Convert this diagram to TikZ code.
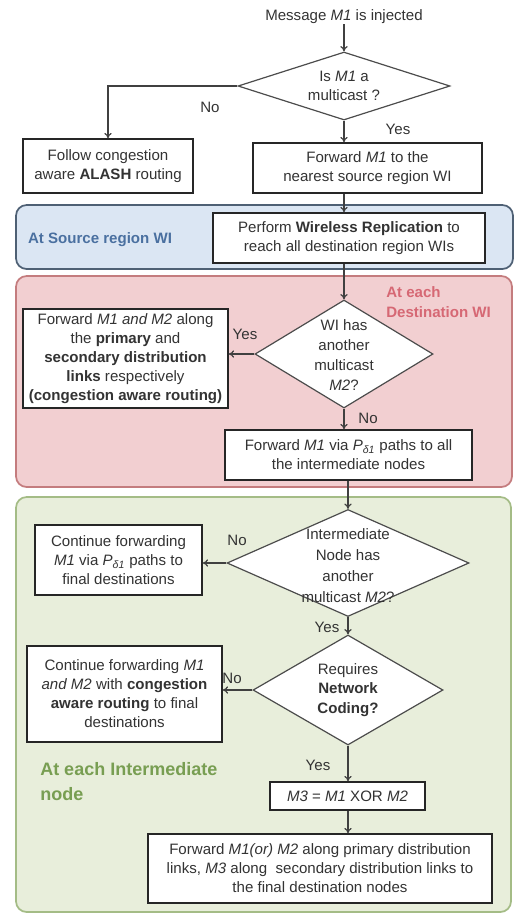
\documentclass[tikz,border=0pt]{standalone}
\usepackage{fontspec}
\setmainfont{Liberation Sans}
\usetikzlibrary{arrows.meta,positioning,shapes.geometric}
\definecolor{srcfill}{RGB}{219,230,243}
\definecolor{srcline}{RGB}{78,96,116}
\definecolor{srctext}{RGB}{74,112,160}
\definecolor{dstfill}{RGB}{242,207,209}
\definecolor{dstline}{RGB}{196,124,126}
\definecolor{dsttext}{RGB}{214,104,116}
\definecolor{intfill}{RGB}{232,238,219}
\definecolor{intline}{RGB}{164,188,134}
\definecolor{inttext}{RGB}{120,158,82}
\newcommand{\pu}{0.75pt}

\begin{document}
\begin{tikzpicture}[x=0.75pt, y=-0.75pt,
                    font=\fontsize{11.3}{14.3}\selectfont,
                    >={To[length=4pt,width=5.5pt]}]
  % styles
  \tikzstyle{region}=[rectangle,rounded corners=8pt,line width=1.3pt,inner sep=0pt]
  \tikzstyle{box}=[rectangle,draw=black!85,line width=1.1pt,fill=white,
                   align=center,inner sep=1pt,text=black!80]
  \tikzstyle{cond}=[diamond,draw=black!70,line width=0.9pt,fill=white,inner sep=0pt]
  \tikzstyle{condtext}=[align=center,text=black!80,inner sep=0pt,
                        font=\fontsize{11.3}{14.8}\selectfont]
  \tikzstyle{flow}=[->,line width=0.9pt,draw=black!75]
  \tikzstyle{lbl}=[text=black!80,inner sep=0pt]

  \useasboundingbox (0,0) rectangle (514,915);

  % regions
  \node[region,draw=srcline,fill=srcfill,minimum width=497*\pu,minimum height=64*\pu]
       (srcreg) at (264.5,237) {};
  \node[region,draw=dstline,fill=dstfill,minimum width=496*\pu,minimum height=211*\pu]
       (dstreg) at (264,381.5) {};
  \node[region,draw=intline,fill=intfill,minimum width=495*\pu,minimum height=415*\pu]
       (intreg) at (263.5,704.5) {};

  \node[text=srctext,font=\fontsize{11.3}{14}\selectfont\bfseries] (srclbl) at (100,240)
       {At Source region WI};
  \node[text=dsttext,font=\fontsize{11.3}{15}\selectfont\bfseries,align=left,anchor=west,inner sep=0pt]
       (dstlbl) at (386,302) {At each\\Destination WI};
  \node[text=inttext,font=\fontsize{13.5}{18.8}\selectfont\bfseries,align=left,anchor=west,inner sep=0pt]
       (intlbl) at (40,782) {At each Intermediate\\node};

  % nodes
  \node[lbl] (inj) at (344,17) {Message \textit{M1} is injected};

  \node[cond,minimum width=212*\pu,minimum height=68*\pu] (d1) at (344,86) {};
  \node[condtext] (d1t) at (d1.center) {Is \textit{M1} a\\multicast ?};

  \node[box,minimum width=170*\pu,minimum height=54*\pu] (alash) at (108,166)
       {Follow congestion\\aware \textbf{ALASH} routing};
  \node[box,minimum width=229*\pu,minimum height=50*\pu] (fwdwi) at (367.5,168)
       {Forward \textit{M1} to the\\nearest source region WI};
  \node[box,minimum width=272*\pu,minimum height=50*\pu] (wrep) at (349,238)
       {Perform \textbf{Wireless Replication} to\\reach all destination region WIs};

  \node[cond,minimum width=178*\pu,minimum height=108*\pu] (d2) at (344,354) {};
  \node[condtext] (d2t) at (344,355) {WI has\\another\\multicast\\\textit{M2}?};

  \node[box,minimum width=205*\pu,minimum height=99*\pu] (both) at (125.5,358.5)
       {Forward \textit{M1 and M2} along\\the \textbf{primary} and\\
        \textbf{secondary distribution}\\\textbf{links} respectively\\
        \textbf{(congestion aware routing)}};
  \node[box,minimum width=247*\pu,minimum height=50*\pu] (pdelta) at (348.5,455)
       {Forward \textit{M1} via \textit{P}\textsubscript{\textit{δ1}} paths to all\\the intermediate nodes};

  \node[cond,minimum width=242*\pu,minimum height=107*\pu] (d3) at (348,563) {};
  \node[condtext,font=\fontsize{11.3}{15.8}\selectfont] (d3t) at (348,566)
       {Intermediate\\Node has\\another\\multicast \textit{M2}?};

  \node[box,minimum width=167*\pu,minimum height=70*\pu] (cont1) at (118.5,560)
       {Continue forwarding\\\textit{M1} via \textit{P}\textsubscript{\textit{δ1}} paths to\\final destinations};

  \node[cond,minimum width=190*\pu,minimum height=110*\pu] (d4) at (348,690) {};
  \node[condtext] (d4t) at (348,690) {Requires\\\textbf{Network}\\\textbf{Coding?}};

  \node[box,minimum width=195*\pu,minimum height=96*\pu] (cont2) at (124.5,694)
       {Continue forwarding \textit{M1}\\\textit{and M2} with \textbf{congestion}\\
        \textbf{aware routing} to final\\destinations};
  \node[box,minimum width=155*\pu,minimum height=28*\pu] (xor) at (347.5,796)
       {\textit{M3} = \textit{M1} XOR \textit{M2}};
  \node[box,minimum width=344*\pu,minimum height=69*\pu] (final) at (320,868.5)
       {Forward \textit{M1(or) M2} along primary distribution\\
        links, \textit{M3} along \ secondary distribution links to\\
        the final destination nodes};

  % arrows
  \draw[flow] (inj) -- (d1.north);
  \draw[flow] (d1.west) -| (alash.north);
  \draw[flow] (d1.south) -- (d1.south |- fwdwi.north);
  \draw[flow] (d1.south |- fwdwi.south) -- (d1.south |- wrep.north);
  \draw[flow] (d1.south |- wrep.south) -- (d2.north);
  \draw[flow] (d2.west) -- (d2.west -| both.east);
  \draw[flow] (d2.south) -- (d2.south |- pdelta.north);
  \draw[flow] (d3.north |- pdelta.south) -- (d3.north);
  \draw[flow] (d3.west) -- (d3.west -| cont1.east);
  \draw[flow] (d3.south) -- (d4.north);
  \draw[flow] (d4.west) -- (d4.west -| cont2.east);
  \draw[flow] (d4.south) -- (d4.south |- xor.north);
  \draw[flow] (d4.south |- xor.south) -- (d4.south |- final.north);

  % yes/no labels
  \node[lbl] (no1)  at (210,107) {No};
  \node[lbl] (yes1) at (398,129) {Yes};
  \node[lbl] (yes2) at (245,334) {Yes};
  \node[lbl] (no2)  at (368,418) {No};
  \node[lbl] (no3)  at (237,540) {No};
  \node[lbl] (yes3) at (327,627) {Yes};
  \node[lbl] (no4)  at (232,678) {No};
  \node[lbl] (yes4) at (318,765) {Yes};
\end{tikzpicture}
\end{document}
